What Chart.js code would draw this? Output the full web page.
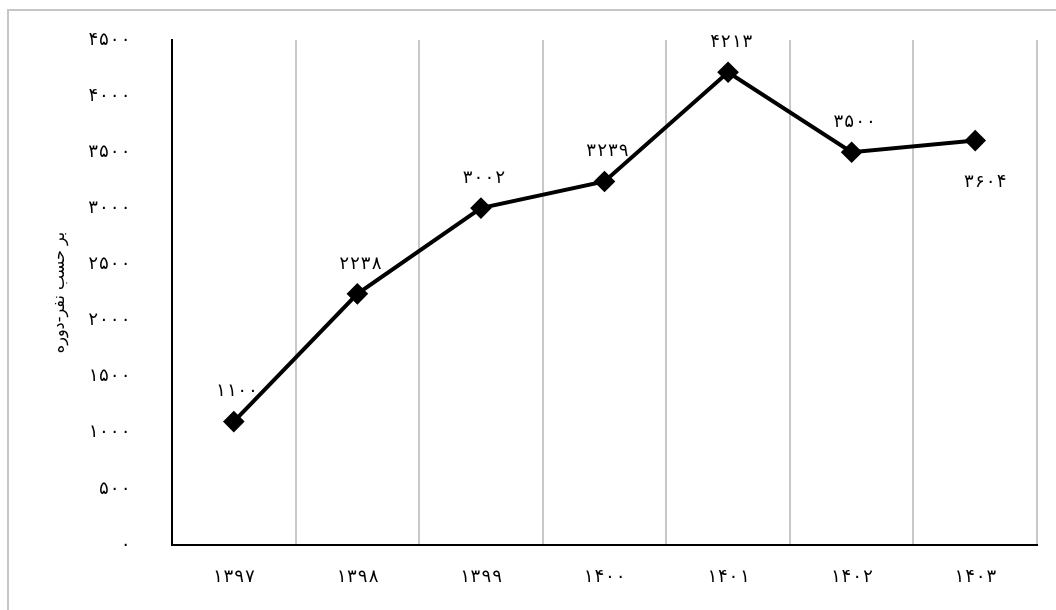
<!DOCTYPE html>
<html>
<head>
<meta charset="utf-8">
<script src="https://cdn.jsdelivr.net/npm/chart.js@4/dist/chart.umd.min.js"></script>
<style>
  html, body { margin: 0; padding: 0; background: #fff; overflow: hidden; }
  #frame { position: absolute; left: 7px; top: 9px; width: 2000px; height: 2000px; border: 2px solid #c6c6c6; }
  #chart { position: absolute; left: 0; top: 0; }
</style>
</head>
<body>
<div id="frame"></div>
<canvas id="chart" width="1056" height="610"></canvas>
<script>
  // --- data ---
  const years = ['۱۳۹۷', '۱۳۹۸', '۱۳۹۹', '۱۴۰۰', '۱۴۰۱', '۱۴۰۲', '۱۴۰۳'];
  const values = [1100, 2238, 3002, 3239, 4213, 3500, 3604];
  const yTicks = [0, 500, 1000, 1500, 2000, 2500, 3000, 3500, 4000, 4500];
  const yTitle = 'بر حسب نفر-دوره';

  const NUM_FONT = "'DejaVu Sans Mono', 'DejaVu Sans', monospace";
  const TITLE_FONT = "'DejaVu Sans', sans-serif";
  const faDigits = '۰۱۲۳۴۵۶۷۸۹';
  const toFa = n => String(n).replace(/\d/g, d => faDigits[d]);

  // value labels above each point (last one sits below)
  const valueLabels = {
    id: 'valueLabels',
    afterDatasetsDraw(chart) {
      const ctx = chart.ctx;
      const meta = chart.getDatasetMeta(0);
      ctx.save();
      ctx.font = '18px ' + NUM_FONT;
      ctx.fillStyle = '#000';
      ctx.textAlign = 'center';
      ctx.textBaseline = 'middle';
      meta.data.forEach((pt, i) => {
        const below = i === meta.data.length - 1;
        ctx.fillText(toFa(values[i]), pt.x + (below ? 10 : 3), below ? pt.y + 42 : pt.y - 30);
      });
      ctx.restore();
    }
  };

  new Chart(document.getElementById('chart'), {
    type: 'line',
    data: {
      labels: years,
      datasets: [{
        data: values,
        borderColor: '#000',
        backgroundColor: '#000',
        borderWidth: 4,
        pointStyle: 'rectRot',
        pointRadius: 8,
        pointBackgroundColor: '#000',
        pointBorderColor: '#000',
        tension: 0,
        fill: false
      }]
    },
    options: {
      responsive: false,
      animation: false,
      layout: { padding: { top: 40, right: 19, left: 0, bottom: 0 } },
      plugins: { legend: { display: false }, tooltip: { enabled: false } },
      scales: {
        x: {
          offset: true,
          grid: { display: true, offset: true, color: '#c8c8c8', lineWidth: 2, drawTicks: false },
          border: { display: true, color: '#000', width: 2 },
          ticks: { color: '#000', font: { family: NUM_FONT, size: 18 }, padding: 22 },
          afterFit: s => { s.height = 65; s.paddingLeft = 0; s.paddingRight = 0; }
        },
        y: {
          min: 0, max: 4500,
          afterBuildTicks: s => { s.ticks = yTicks.map(v => ({ value: v })); },
          grid: { display: false, drawTicks: false },
          border: { display: true, color: '#000', width: 2 },
          ticks: { color: '#000', font: { family: NUM_FONT, size: 18 }, padding: 41, callback: v => toFa(v) },
          title: { display: true, text: yTitle, color: '#000', font: { family: TITLE_FONT, size: 16 }, padding: { top: 50, bottom: 0 } },
          afterFit: s => { s.width = 172; s.paddingTop = 0; s.paddingBottom = 0; }
        }
      }
    },
    plugins: [valueLabels]
  });
</script>
</body>
</html>
